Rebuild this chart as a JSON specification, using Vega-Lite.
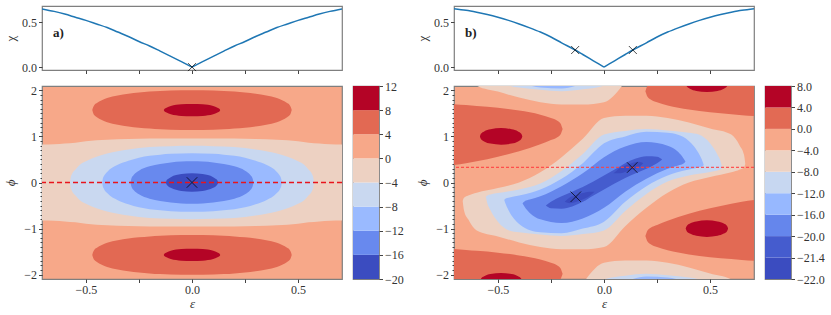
{
"$schema":"https://vega.github.io/schema/vega-lite/v6.json",
"autosize":{"type":"pad"},
"padding":{"left":3,"top":5,"right":0,"bottom":0},
"config":{"font":"Liberation Serif","view":{"stroke":"#7f7f7f","strokeWidth":1.2},
"axis":{"domain":false,"grid":false,"tickColor":"#444","tickWidth":1,"labelColor":"#333","labelFontSize":12,"labelFont":"Liberation Serif","titleFont":"Liberation Serif","titleFontSize":13,"titleFontWeight":"normal","titleColor":"#333","labelPadding":2,"labelOverlap":false}},
"datasets":{
"chiA":[{"k":"L","e":-0.707,"chi":0.648},{"k":"L","e":-0.65,"chi":0.62},{"k":"L","e":-0.6,"chi":0.59},{"k":"L","e":-0.55,"chi":0.555},{"k":"L","e":-0.5,"chi":0.52},{"k":"L","e":-0.45,"chi":0.48},{"k":"L","e":-0.4,"chi":0.44},{"k":"L","e":-0.35,"chi":0.39},{"k":"L","e":-0.3,"chi":0.34},{"k":"L","e":-0.25,"chi":0.285},{"k":"L","e":-0.2,"chi":0.235},{"k":"L","e":-0.15,"chi":0.178},{"k":"L","e":-0.1,"chi":0.12},{"k":"L","e":-0.05,"chi":0.06},{"k":"L","e":0,"chi":0},{"k":"R","e":0,"chi":0},{"k":"R","e":0.05,"chi":0.06},{"k":"R","e":0.1,"chi":0.12},{"k":"R","e":0.15,"chi":0.178},{"k":"R","e":0.2,"chi":0.235},{"k":"R","e":0.25,"chi":0.285},{"k":"R","e":0.3,"chi":0.34},{"k":"R","e":0.35,"chi":0.39},{"k":"R","e":0.4,"chi":0.44},{"k":"R","e":0.45,"chi":0.48},{"k":"R","e":0.5,"chi":0.52},{"k":"R","e":0.55,"chi":0.555},{"k":"R","e":0.6,"chi":0.59},{"k":"R","e":0.65,"chi":0.62},{"k":"R","e":0.707,"chi":0.648}],
"chiB":[{"k":"L","e":-0.707,"chi":0.65},{"k":"L","e":-0.65,"chi":0.632},{"k":"L","e":-0.6,"chi":0.61},{"k":"L","e":-0.55,"chi":0.585},{"k":"L","e":-0.5,"chi":0.555},{"k":"L","e":-0.45,"chi":0.52},{"k":"L","e":-0.4,"chi":0.48},{"k":"L","e":-0.35,"chi":0.437},{"k":"L","e":-0.3,"chi":0.39},{"k":"L","e":-0.25,"chi":0.335},{"k":"L","e":-0.2,"chi":0.27},{"k":"L","e":-0.136,"chi":0.19},{"k":"L","e":-0.1,"chi":0.14},{"k":"L","e":-0.05,"chi":0.07},{"k":"L","e":0,"chi":0},{"k":"R","e":0,"chi":0},{"k":"R","e":0.05,"chi":0.07},{"k":"R","e":0.1,"chi":0.14},{"k":"R","e":0.136,"chi":0.19},{"k":"R","e":0.2,"chi":0.27},{"k":"R","e":0.25,"chi":0.335},{"k":"R","e":0.3,"chi":0.39},{"k":"R","e":0.35,"chi":0.437},{"k":"R","e":0.4,"chi":0.48},{"k":"R","e":0.45,"chi":0.52},{"k":"R","e":0.5,"chi":0.555},{"k":"R","e":0.55,"chi":0.585},{"k":"R","e":0.6,"chi":0.61},{"k":"R","e":0.65,"chi":0.632},{"k":"R","e":0.707,"chi":0.65}],
"ca":[
{"s":"p0","va":-4,"e":-0.71,"lo":-0.825,"hi":0.825},{"s":"p0","va":-4,"e":-0.65,"lo":-0.83,"hi":0.83},{"s":"p0","va":-4,"e":-0.6,"lo":-0.845,"hi":0.845},{"s":"p0","va":-4,"e":-0.55,"lo":-0.865,"hi":0.865},{"s":"p0","va":-4,"e":-0.5,"lo":-0.895,"hi":0.895},{"s":"p0","va":-4,"e":-0.4,"lo":-0.927,"hi":0.927},{"s":"p0","va":-4,"e":-0.3,"lo":-0.942,"hi":0.942},{"s":"p0","va":-4,"e":-0.2,"lo":-0.954,"hi":0.954},{"s":"p0","va":-4,"e":-0.1,"lo":-0.955,"hi":0.955},{"s":"p0","va":-4,"e":0,"lo":-0.956,"hi":0.956},{"s":"p0","va":-4,"e":0.1,"lo":-0.955,"hi":0.955},{"s":"p0","va":-4,"e":0.2,"lo":-0.954,"hi":0.954},{"s":"p0","va":-4,"e":0.3,"lo":-0.942,"hi":0.942},{"s":"p0","va":-4,"e":0.4,"lo":-0.927,"hi":0.927},{"s":"p0","va":-4,"e":0.5,"lo":-0.895,"hi":0.895},{"s":"p0","va":-4,"e":0.55,"lo":-0.865,"hi":0.865},{"s":"p0","va":-4,"e":0.6,"lo":-0.845,"hi":0.845},{"s":"p0","va":-4,"e":0.65,"lo":-0.83,"hi":0.83},{"s":"p0","va":-4,"e":0.71,"lo":-0.825,"hi":0.825},
{"s":"b1","va":-8,"e":-0.575,"lo":0,"hi":0},{"s":"b1","va":-8,"e":-0.572,"lo":-0.1,"hi":0.1},{"s":"b1","va":-8,"e":-0.565,"lo":-0.19,"hi":0.19},{"s":"b1","va":-8,"e":-0.55,"lo":-0.279,"hi":0.279},{"s":"b1","va":-8,"e":-0.53,"lo":-0.38,"hi":0.38},{"s":"b1","va":-8,"e":-0.5,"lo":-0.461,"hi":0.461},{"s":"b1","va":-8,"e":-0.45,"lo":-0.557,"hi":0.557},{"s":"b1","va":-8,"e":-0.4,"lo":-0.628,"hi":0.628},{"s":"b1","va":-8,"e":-0.35,"lo":-0.678,"hi":0.678},{"s":"b1","va":-8,"e":-0.3,"lo":-0.715,"hi":0.715},{"s":"b1","va":-8,"e":-0.2,"lo":-0.768,"hi":0.768},{"s":"b1","va":-8,"e":-0.1,"lo":-0.788,"hi":0.788},{"s":"b1","va":-8,"e":0,"lo":-0.796,"hi":0.796},{"s":"b1","va":-8,"e":0.1,"lo":-0.788,"hi":0.788},{"s":"b1","va":-8,"e":0.2,"lo":-0.768,"hi":0.768},{"s":"b1","va":-8,"e":0.3,"lo":-0.715,"hi":0.715},{"s":"b1","va":-8,"e":0.35,"lo":-0.678,"hi":0.678},{"s":"b1","va":-8,"e":0.4,"lo":-0.628,"hi":0.628},{"s":"b1","va":-8,"e":0.45,"lo":-0.557,"hi":0.557},{"s":"b1","va":-8,"e":0.5,"lo":-0.461,"hi":0.461},{"s":"b1","va":-8,"e":0.53,"lo":-0.38,"hi":0.38},{"s":"b1","va":-8,"e":0.55,"lo":-0.279,"hi":0.279},{"s":"b1","va":-8,"e":0.565,"lo":-0.19,"hi":0.19},{"s":"b1","va":-8,"e":0.572,"lo":-0.1,"hi":0.1},{"s":"b1","va":-8,"e":0.575,"lo":0,"hi":0},
{"s":"b2","va":-12,"e":-0.423,"lo":0,"hi":0},{"s":"b2","va":-12,"e":-0.421,"lo":-0.07,"hi":0.07},{"s":"b2","va":-12,"e":-0.415,"lo":-0.139,"hi":0.139},{"s":"b2","va":-12,"e":-0.4,"lo":-0.228,"hi":0.228},{"s":"b2","va":-12,"e":-0.35,"lo":-0.383,"hi":0.383},{"s":"b2","va":-12,"e":-0.3,"lo":-0.472,"hi":0.472},{"s":"b2","va":-12,"e":-0.25,"lo":-0.539,"hi":0.539},{"s":"b2","va":-12,"e":-0.2,"lo":-0.58,"hi":0.58},{"s":"b2","va":-12,"e":-0.15,"lo":-0.604,"hi":0.604},{"s":"b2","va":-12,"e":-0.1,"lo":-0.622,"hi":0.622},{"s":"b2","va":-12,"e":0,"lo":-0.637,"hi":0.637},{"s":"b2","va":-12,"e":0.1,"lo":-0.622,"hi":0.622},{"s":"b2","va":-12,"e":0.15,"lo":-0.604,"hi":0.604},{"s":"b2","va":-12,"e":0.2,"lo":-0.58,"hi":0.58},{"s":"b2","va":-12,"e":0.25,"lo":-0.539,"hi":0.539},{"s":"b2","va":-12,"e":0.3,"lo":-0.472,"hi":0.472},{"s":"b2","va":-12,"e":0.35,"lo":-0.383,"hi":0.383},{"s":"b2","va":-12,"e":0.4,"lo":-0.228,"hi":0.228},{"s":"b2","va":-12,"e":0.415,"lo":-0.139,"hi":0.139},{"s":"b2","va":-12,"e":0.421,"lo":-0.07,"hi":0.07},{"s":"b2","va":-12,"e":0.423,"lo":0,"hi":0},
{"s":"b3","va":-16,"e":-0.29,"lo":0,"hi":0},{"s":"b3","va":-16,"e":-0.286,"lo":-0.08,"hi":0.08},{"s":"b3","va":-16,"e":-0.275,"lo":-0.164,"hi":0.164},{"s":"b3","va":-16,"e":-0.25,"lo":-0.257,"hi":0.257},{"s":"b3","va":-16,"e":-0.2,"lo":-0.351,"hi":0.351},{"s":"b3","va":-16,"e":-0.15,"lo":-0.4,"hi":0.4},{"s":"b3","va":-16,"e":-0.1,"lo":-0.434,"hi":0.434},{"s":"b3","va":-16,"e":-0.05,"lo":-0.453,"hi":0.453},{"s":"b3","va":-16,"e":0,"lo":-0.459,"hi":0.459},{"s":"b3","va":-16,"e":0.05,"lo":-0.453,"hi":0.453},{"s":"b3","va":-16,"e":0.1,"lo":-0.434,"hi":0.434},{"s":"b3","va":-16,"e":0.15,"lo":-0.4,"hi":0.4},{"s":"b3","va":-16,"e":0.2,"lo":-0.351,"hi":0.351},{"s":"b3","va":-16,"e":0.25,"lo":-0.257,"hi":0.257},{"s":"b3","va":-16,"e":0.275,"lo":-0.164,"hi":0.164},{"s":"b3","va":-16,"e":0.286,"lo":-0.08,"hi":0.08},{"s":"b3","va":-16,"e":0.29,"lo":0,"hi":0},
{"s":"b4","va":-20,"e":-0.123,"lo":0,"hi":0},{"s":"b4","va":-20,"e":-0.121,"lo":-0.034,"hi":0.034},{"s":"b4","va":-20,"e":-0.115,"lo":-0.068,"hi":0.068},{"s":"b4","va":-20,"e":-0.1,"lo":-0.116,"hi":0.116},{"s":"b4","va":-20,"e":-0.05,"lo":-0.183,"hi":0.183},{"s":"b4","va":-20,"e":0,"lo":-0.2,"hi":0.2},{"s":"b4","va":-20,"e":0.05,"lo":-0.183,"hi":0.183},{"s":"b4","va":-20,"e":0.1,"lo":-0.116,"hi":0.116},{"s":"b4","va":-20,"e":0.115,"lo":-0.068,"hi":0.068},{"s":"b4","va":-20,"e":0.121,"lo":-0.034,"hi":0.034},{"s":"b4","va":-20,"e":0.123,"lo":0,"hi":0},
{"s":"r1t","va":4,"e":-0.47,"lo":1.571,"hi":1.571},{"s":"r1t","va":4,"e":-0.466,"lo":1.51,"hi":1.632},{"s":"r1t","va":4,"e":-0.46,"lo":1.458,"hi":1.684},{"s":"r1t","va":4,"e":-0.45,"lo":1.424,"hi":1.718},{"s":"r1t","va":4,"e":-0.4,"lo":1.31,"hi":1.832},{"s":"r1t","va":4,"e":-0.35,"lo":1.253,"hi":1.889},{"s":"r1t","va":4,"e":-0.3,"lo":1.214,"hi":1.928},{"s":"r1t","va":4,"e":-0.25,"lo":1.189,"hi":1.953},{"s":"r1t","va":4,"e":-0.2,"lo":1.17,"hi":1.972},{"s":"r1t","va":4,"e":-0.15,"lo":1.154,"hi":1.988},{"s":"r1t","va":4,"e":-0.1,"lo":1.145,"hi":1.997},{"s":"r1t","va":4,"e":0,"lo":1.139,"hi":2.003},{"s":"r1t","va":4,"e":0.1,"lo":1.145,"hi":1.997},{"s":"r1t","va":4,"e":0.15,"lo":1.154,"hi":1.988},{"s":"r1t","va":4,"e":0.2,"lo":1.17,"hi":1.972},{"s":"r1t","va":4,"e":0.25,"lo":1.189,"hi":1.953},{"s":"r1t","va":4,"e":0.3,"lo":1.214,"hi":1.928},{"s":"r1t","va":4,"e":0.35,"lo":1.253,"hi":1.889},{"s":"r1t","va":4,"e":0.4,"lo":1.31,"hi":1.832},{"s":"r1t","va":4,"e":0.45,"lo":1.424,"hi":1.718},{"s":"r1t","va":4,"e":0.46,"lo":1.458,"hi":1.684},{"s":"r1t","va":4,"e":0.466,"lo":1.51,"hi":1.632},{"s":"r1t","va":4,"e":0.47,"lo":1.571,"hi":1.571},
{"s":"r1b","va":4,"e":-0.47,"lo":-1.571,"hi":-1.571},{"s":"r1b","va":4,"e":-0.466,"lo":-1.632,"hi":-1.51},{"s":"r1b","va":4,"e":-0.46,"lo":-1.684,"hi":-1.458},{"s":"r1b","va":4,"e":-0.45,"lo":-1.718,"hi":-1.424},{"s":"r1b","va":4,"e":-0.4,"lo":-1.832,"hi":-1.31},{"s":"r1b","va":4,"e":-0.35,"lo":-1.889,"hi":-1.253},{"s":"r1b","va":4,"e":-0.3,"lo":-1.928,"hi":-1.214},{"s":"r1b","va":4,"e":-0.25,"lo":-1.953,"hi":-1.189},{"s":"r1b","va":4,"e":-0.2,"lo":-1.972,"hi":-1.17},{"s":"r1b","va":4,"e":-0.15,"lo":-1.988,"hi":-1.154},{"s":"r1b","va":4,"e":-0.1,"lo":-1.997,"hi":-1.145},{"s":"r1b","va":4,"e":0,"lo":-2.003,"hi":-1.139},{"s":"r1b","va":4,"e":0.1,"lo":-1.997,"hi":-1.145},{"s":"r1b","va":4,"e":0.15,"lo":-1.988,"hi":-1.154},{"s":"r1b","va":4,"e":0.2,"lo":-1.972,"hi":-1.17},{"s":"r1b","va":4,"e":0.25,"lo":-1.953,"hi":-1.189},{"s":"r1b","va":4,"e":0.3,"lo":-1.928,"hi":-1.214},{"s":"r1b","va":4,"e":0.35,"lo":-1.889,"hi":-1.253},{"s":"r1b","va":4,"e":0.4,"lo":-1.832,"hi":-1.31},{"s":"r1b","va":4,"e":0.45,"lo":-1.718,"hi":-1.424},{"s":"r1b","va":4,"e":0.46,"lo":-1.684,"hi":-1.458},{"s":"r1b","va":4,"e":0.466,"lo":-1.632,"hi":-1.51},{"s":"r1b","va":4,"e":0.47,"lo":-1.571,"hi":-1.571},
{"s":"r2t","va":8,"e":-0.133,"lo":1.571,"hi":1.571},{"s":"r2t","va":8,"e":-0.13,"lo":1.545,"hi":1.597},{"s":"r2t","va":8,"e":-0.12,"lo":1.521,"hi":1.621},{"s":"r2t","va":8,"e":-0.1,"lo":1.48,"hi":1.662},{"s":"r2t","va":8,"e":-0.05,"lo":1.445,"hi":1.697},{"s":"r2t","va":8,"e":0,"lo":1.436,"hi":1.706},{"s":"r2t","va":8,"e":0.05,"lo":1.445,"hi":1.697},{"s":"r2t","va":8,"e":0.1,"lo":1.48,"hi":1.662},{"s":"r2t","va":8,"e":0.12,"lo":1.521,"hi":1.621},{"s":"r2t","va":8,"e":0.13,"lo":1.545,"hi":1.597},{"s":"r2t","va":8,"e":0.133,"lo":1.571,"hi":1.571},
{"s":"r2b","va":8,"e":-0.133,"lo":-1.571,"hi":-1.571},{"s":"r2b","va":8,"e":-0.13,"lo":-1.597,"hi":-1.545},{"s":"r2b","va":8,"e":-0.12,"lo":-1.621,"hi":-1.521},{"s":"r2b","va":8,"e":-0.1,"lo":-1.662,"hi":-1.48},{"s":"r2b","va":8,"e":-0.05,"lo":-1.697,"hi":-1.445},{"s":"r2b","va":8,"e":0,"lo":-1.706,"hi":-1.436},{"s":"r2b","va":8,"e":0.05,"lo":-1.697,"hi":-1.445},{"s":"r2b","va":8,"e":0.1,"lo":-1.662,"hi":-1.48},{"s":"r2b","va":8,"e":0.12,"lo":-1.621,"hi":-1.521},{"s":"r2b","va":8,"e":0.13,"lo":-1.597,"hi":-1.545},{"s":"r2b","va":8,"e":0.133,"lo":-1.571,"hi":-1.571}
],
"cb":[
{"s":"q5","vb":-8,"e":-0.666,"lo":-0.4,"hi":-0.4},{"s":"q5","vb":-8,"e":-0.66,"lo":-0.6,"hi":-0.33},{"s":"q5","vb":-8,"e":-0.64,"lo":-0.8,"hi":-0.28},{"s":"q5","vb":-8,"e":-0.6,"lo":-1.04,"hi":-0.22},{"s":"q5","vb":-8,"e":-0.5,"lo":-1.17,"hi":-0.12},{"s":"q5","vb":-8,"e":-0.4,"lo":-1.3,"hi":0},{"s":"q5","vb":-8,"e":-0.3,"lo":-1.4,"hi":0.22},{"s":"q5","vb":-8,"e":-0.2,"lo":-1.45,"hi":0.55},{"s":"q5","vb":-8,"e":-0.1,"lo":-1.45,"hi":0.95},{"s":"q5","vb":-8,"e":0,"lo":-1.4,"hi":1.4},{"s":"q5","vb":-8,"e":0.1,"lo":-0.95,"hi":1.45},{"s":"q5","vb":-8,"e":0.2,"lo":-0.55,"hi":1.45},{"s":"q5","vb":-8,"e":0.3,"lo":-0.22,"hi":1.4},{"s":"q5","vb":-8,"e":0.4,"lo":0,"hi":1.3},{"s":"q5","vb":-8,"e":0.5,"lo":0.12,"hi":1.17},{"s":"q5","vb":-8,"e":0.6,"lo":0.22,"hi":1.04},{"s":"q5","vb":-8,"e":0.64,"lo":0.28,"hi":0.8},{"s":"q5","vb":-8,"e":0.66,"lo":0.33,"hi":0.6},{"s":"q5","vb":-8,"e":0.666,"lo":0.4,"hi":0.4},
{"s":"q5u","vb":-8,"e":-0.64,"lo":2.342,"hi":2.862},{"s":"q5u","vb":-8,"e":-0.6,"lo":2.102,"hi":2.922},{"s":"q5u","vb":-8,"e":-0.5,"lo":1.972,"hi":3.022},{"s":"q5u","vb":-8,"e":-0.4,"lo":1.842,"hi":3.142},{"s":"q5u","vb":-8,"e":-0.3,"lo":1.742,"hi":3.362},{"s":"q5u","vb":-8,"e":-0.2,"lo":1.692,"hi":3.692},{"s":"q5u","vb":-8,"e":-0.1,"lo":1.692,"hi":4.092},{"s":"q5u","vb":-8,"e":0,"lo":1.742,"hi":4.542},{"s":"q5u","vb":-8,"e":0.1,"lo":2.192,"hi":4.592},
{"s":"q5d","vb":-8,"e":-0.1,"lo":-4.592,"hi":-2.192},{"s":"q5d","vb":-8,"e":0,"lo":-4.542,"hi":-1.742},{"s":"q5d","vb":-8,"e":0.1,"lo":-4.092,"hi":-1.692},{"s":"q5d","vb":-8,"e":0.2,"lo":-3.692,"hi":-1.692},{"s":"q5d","vb":-8,"e":0.3,"lo":-3.362,"hi":-1.742},{"s":"q5d","vb":-8,"e":0.4,"lo":-3.142,"hi":-1.842},{"s":"q5d","vb":-8,"e":0.5,"lo":-3.022,"hi":-1.972},{"s":"q5d","vb":-8,"e":0.6,"lo":-2.922,"hi":-2.102},{"s":"q5d","vb":-8,"e":0.64,"lo":-2.862,"hi":-2.342},
{"s":"q4","vb":-12,"e":-0.557,"lo":-0.31,"hi":-0.31},{"s":"q4","vb":-12,"e":-0.55,"lo":-0.45,"hi":-0.28},{"s":"q4","vb":-12,"e":-0.535,"lo":-0.6,"hi":-0.26},{"s":"q4","vb":-12,"e":-0.5,"lo":-0.85,"hi":-0.23},{"s":"q4","vb":-12,"e":-0.447,"lo":-1.04,"hi":-0.19},{"s":"q4","vb":-12,"e":-0.4,"lo":-1.08,"hi":-0.15},{"s":"q4","vb":-12,"e":-0.3,"lo":-1.13,"hi":-0.02},{"s":"q4","vb":-12,"e":-0.2,"lo":-1.16,"hi":0.25},{"s":"q4","vb":-12,"e":-0.1,"lo":-1.12,"hi":0.62},{"s":"q4","vb":-12,"e":0,"lo":-1.04,"hi":1.04},{"s":"q4","vb":-12,"e":0.1,"lo":-0.62,"hi":1.12},{"s":"q4","vb":-12,"e":0.2,"lo":-0.25,"hi":1.16},{"s":"q4","vb":-12,"e":0.3,"lo":0.02,"hi":1.13},{"s":"q4","vb":-12,"e":0.4,"lo":0.15,"hi":1.08},{"s":"q4","vb":-12,"e":0.447,"lo":0.19,"hi":1.04},{"s":"q4","vb":-12,"e":0.5,"lo":0.23,"hi":0.85},{"s":"q4","vb":-12,"e":0.535,"lo":0.26,"hi":0.6},{"s":"q4","vb":-12,"e":0.55,"lo":0.28,"hi":0.45},{"s":"q4","vb":-12,"e":0.557,"lo":0.31,"hi":0.31},
{"s":"q4u","vb":-12,"e":-0.5,"lo":2.292,"hi":2.912},{"s":"q4u","vb":-12,"e":-0.447,"lo":2.102,"hi":2.952},{"s":"q4u","vb":-12,"e":-0.4,"lo":2.062,"hi":2.992},{"s":"q4u","vb":-12,"e":-0.3,"lo":2.012,"hi":3.122},{"s":"q4u","vb":-12,"e":-0.2,"lo":1.982,"hi":3.392},{"s":"q4u","vb":-12,"e":-0.1,"lo":2.022,"hi":3.762},{"s":"q4u","vb":-12,"e":0,"lo":2.102,"hi":4.182},{"s":"q4u","vb":-12,"e":0.1,"lo":2.522,"hi":4.262},
{"s":"q4d","vb":-12,"e":-0.1,"lo":-4.262,"hi":-2.522},{"s":"q4d","vb":-12,"e":0,"lo":-4.182,"hi":-2.102},{"s":"q4d","vb":-12,"e":0.1,"lo":-3.762,"hi":-2.022},{"s":"q4d","vb":-12,"e":0.2,"lo":-3.392,"hi":-1.982},{"s":"q4d","vb":-12,"e":0.3,"lo":-3.122,"hi":-2.012},{"s":"q4d","vb":-12,"e":0.4,"lo":-2.992,"hi":-2.062},{"s":"q4d","vb":-12,"e":0.447,"lo":-2.952,"hi":-2.102},{"s":"q4d","vb":-12,"e":0.5,"lo":-2.912,"hi":-2.292},
{"s":"q3","vb":-16,"e":-0.47,"lo":-0.38,"hi":-0.38},{"s":"q3","vb":-16,"e":-0.465,"lo":-0.45,"hi":-0.35},{"s":"q3","vb":-16,"e":-0.45,"lo":-0.6,"hi":-0.33},{"s":"q3","vb":-16,"e":-0.4,"lo":-0.9,"hi":-0.28},{"s":"q3","vb":-16,"e":-0.345,"lo":-1.04,"hi":-0.22},{"s":"q3","vb":-16,"e":-0.3,"lo":-1.08,"hi":-0.15},{"s":"q3","vb":-16,"e":-0.2,"lo":-1.1,"hi":0.08},{"s":"q3","vb":-16,"e":-0.1,"lo":-1.0,"hi":0.42},{"s":"q3","vb":-16,"e":0,"lo":-0.85,"hi":0.85},{"s":"q3","vb":-16,"e":0.1,"lo":-0.42,"hi":1.0},{"s":"q3","vb":-16,"e":0.2,"lo":-0.08,"hi":1.1},{"s":"q3","vb":-16,"e":0.3,"lo":0.15,"hi":1.08},{"s":"q3","vb":-16,"e":0.345,"lo":0.22,"hi":1.04},{"s":"q3","vb":-16,"e":0.4,"lo":0.28,"hi":0.9},{"s":"q3","vb":-16,"e":0.45,"lo":0.33,"hi":0.6},{"s":"q3","vb":-16,"e":0.465,"lo":0.35,"hi":0.45},{"s":"q3","vb":-16,"e":0.47,"lo":0.38,"hi":0.38},
{"s":"q3u","vb":-16,"e":-0.4,"lo":2.242,"hi":2.862},{"s":"q3u","vb":-16,"e":-0.345,"lo":2.102,"hi":2.922},{"s":"q3u","vb":-16,"e":-0.3,"lo":2.062,"hi":2.992},{"s":"q3u","vb":-16,"e":-0.2,"lo":2.042,"hi":3.222},{"s":"q3u","vb":-16,"e":-0.1,"lo":2.142,"hi":3.562},{"s":"q3u","vb":-16,"e":-0.05,"lo":2.21,"hi":3.7},
{"s":"q3d","vb":-16,"e":0.05,"lo":-3.7,"hi":-2.21},{"s":"q3d","vb":-16,"e":0.1,"lo":-3.562,"hi":-2.142},{"s":"q3d","vb":-16,"e":0.2,"lo":-3.222,"hi":-2.042},{"s":"q3d","vb":-16,"e":0.3,"lo":-2.992,"hi":-2.062},{"s":"q3d","vb":-16,"e":0.345,"lo":-2.922,"hi":-2.102},{"s":"q3d","vb":-16,"e":0.4,"lo":-2.862,"hi":-2.242},
{"s":"q2","vb":-20,"e":-0.384,"lo":-0.45,"hi":-0.45},{"s":"q2","vb":-20,"e":-0.375,"lo":-0.52,"hi":-0.41},{"s":"q2","vb":-20,"e":-0.35,"lo":-0.66,"hi":-0.37},{"s":"q2","vb":-20,"e":-0.3,"lo":-0.8,"hi":-0.3},{"s":"q2","vb":-20,"e":-0.2,"lo":-0.88,"hi":-0.08},{"s":"q2","vb":-20,"e":-0.1,"lo":-0.78,"hi":0.2},{"s":"q2","vb":-20,"e":0,"lo":-0.55,"hi":0.55},{"s":"q2","vb":-20,"e":0.1,"lo":-0.2,"hi":0.78},{"s":"q2","vb":-20,"e":0.2,"lo":0.08,"hi":0.88},{"s":"q2","vb":-20,"e":0.3,"lo":0.3,"hi":0.8},{"s":"q2","vb":-20,"e":0.35,"lo":0.37,"hi":0.66},{"s":"q2","vb":-20,"e":0.375,"lo":0.41,"hi":0.52},{"s":"q2","vb":-20,"e":0.384,"lo":0.45,"hi":0.45},
{"s":"q1","vb":-21.4,"e":-0.274,"lo":-0.5,"hi":-0.5},{"s":"q1","vb":-21.4,"e":-0.25,"lo":-0.56,"hi":-0.42},{"s":"q1","vb":-21.4,"e":-0.2,"lo":-0.57,"hi":-0.3},{"s":"q1","vb":-21.4,"e":-0.15,"lo":-0.52,"hi":-0.2},{"s":"q1","vb":-21.4,"e":-0.1,"lo":-0.42,"hi":-0.1},{"s":"q1","vb":-21.4,"e":-0.05,"lo":-0.28,"hi":0.02},{"s":"q1","vb":-21.4,"e":0,"lo":-0.15,"hi":0.15},{"s":"q1","vb":-21.4,"e":0.05,"lo":-0.02,"hi":0.28},{"s":"q1","vb":-21.4,"e":0.1,"lo":0.1,"hi":0.42},{"s":"q1","vb":-21.4,"e":0.15,"lo":0.2,"hi":0.52},{"s":"q1","vb":-21.4,"e":0.2,"lo":0.3,"hi":0.57},{"s":"q1","vb":-21.4,"e":0.25,"lo":0.42,"hi":0.56},{"s":"q1","vb":-21.4,"e":0.274,"lo":0.5,"hi":0.5},
{"s":"q0r","vb":-22,"e":0.045,"lo":0.2,"hi":0.2},{"s":"q0r","vb":-22,"e":0.07,"lo":0.2,"hi":0.3},{"s":"q0r","vb":-22,"e":0.1,"lo":0.23,"hi":0.37},{"s":"q0r","vb":-22,"e":0.13,"lo":0.27,"hi":0.42},{"s":"q0r","vb":-22,"e":0.16,"lo":0.32,"hi":0.45},{"s":"q0r","vb":-22,"e":0.185,"lo":0.42,"hi":0.42},
{"s":"q0l","vb":-22,"e":-0.185,"lo":-0.42,"hi":-0.42},{"s":"q0l","vb":-22,"e":-0.16,"lo":-0.45,"hi":-0.32},{"s":"q0l","vb":-22,"e":-0.13,"lo":-0.42,"hi":-0.27},{"s":"q0l","vb":-22,"e":-0.1,"lo":-0.37,"hi":-0.23},{"s":"q0l","vb":-22,"e":-0.07,"lo":-0.3,"hi":-0.2},{"s":"q0l","vb":-22,"e":-0.045,"lo":-0.2,"hi":-0.2},
{"s":"rl","vb":0,"e":-0.71,"lo":0.38,"hi":1.7},{"s":"rl","vb":0,"e":-0.65,"lo":0.42,"hi":1.68},{"s":"rl","vb":0,"e":-0.6,"lo":0.46,"hi":1.66},{"s":"rl","vb":0,"e":-0.5,"lo":0.56,"hi":1.62},{"s":"rl","vb":0,"e":-0.4,"lo":0.68,"hi":1.56},{"s":"rl","vb":0,"e":-0.3,"lo":0.83,"hi":1.47},{"s":"rl","vb":0,"e":-0.25,"lo":0.92,"hi":1.4},{"s":"rl","vb":0,"e":-0.22,"lo":0.98,"hi":1.34},{"s":"rl","vb":0,"e":-0.205,"lo":1.04,"hi":1.28},{"s":"rl","vb":0,"e":-0.195,"lo":1.16,"hi":1.16},
{"s":"rr","vb":0,"e":0.195,"lo":-1.16,"hi":-1.16},{"s":"rr","vb":0,"e":0.205,"lo":-1.28,"hi":-1.04},{"s":"rr","vb":0,"e":0.22,"lo":-1.34,"hi":-0.98},{"s":"rr","vb":0,"e":0.25,"lo":-1.4,"hi":-0.92},{"s":"rr","vb":0,"e":0.3,"lo":-1.47,"hi":-0.83},{"s":"rr","vb":0,"e":0.4,"lo":-1.56,"hi":-0.68},{"s":"rr","vb":0,"e":0.5,"lo":-1.62,"hi":-0.56},{"s":"rr","vb":0,"e":0.6,"lo":-1.66,"hi":-0.46},{"s":"rr","vb":0,"e":0.65,"lo":-1.68,"hi":-0.42},{"s":"rr","vb":0,"e":0.71,"lo":-1.7,"hi":-0.38},
{"s":"rld","vb":0,"e":-0.71,"lo":-2.762,"hi":-1.442},{"s":"rld","vb":0,"e":-0.65,"lo":-2.722,"hi":-1.462},{"s":"rld","vb":0,"e":-0.6,"lo":-2.682,"hi":-1.482},{"s":"rld","vb":0,"e":-0.5,"lo":-2.582,"hi":-1.522},{"s":"rld","vb":0,"e":-0.4,"lo":-2.462,"hi":-1.582},{"s":"rld","vb":0,"e":-0.3,"lo":-2.312,"hi":-1.672},{"s":"rld","vb":0,"e":-0.25,"lo":-2.222,"hi":-1.742},{"s":"rld","vb":0,"e":-0.22,"lo":-2.162,"hi":-1.802},{"s":"rld","vb":0,"e":-0.205,"lo":-2.102,"hi":-1.862},{"s":"rld","vb":0,"e":-0.195,"lo":-1.982,"hi":-1.982},
{"s":"rru","vb":0,"e":0.195,"lo":1.982,"hi":1.982},{"s":"rru","vb":0,"e":0.205,"lo":1.862,"hi":2.102},{"s":"rru","vb":0,"e":0.22,"lo":1.802,"hi":2.162},{"s":"rru","vb":0,"e":0.25,"lo":1.742,"hi":2.222},{"s":"rru","vb":0,"e":0.3,"lo":1.672,"hi":2.312},{"s":"rru","vb":0,"e":0.4,"lo":1.582,"hi":2.462},{"s":"rru","vb":0,"e":0.5,"lo":1.522,"hi":2.582},{"s":"rru","vb":0,"e":0.6,"lo":1.482,"hi":2.682},{"s":"rru","vb":0,"e":0.65,"lo":1.462,"hi":2.722},{"s":"rru","vb":0,"e":0.71,"lo":1.442,"hi":2.762},
{"s":"d1","vb":4,"e":-0.585,"lo":1.0,"hi":1.0},{"s":"d1","vb":4,"e":-0.58,"lo":0.944,"hi":1.056},{"s":"d1","vb":4,"e":-0.565,"lo":0.892,"hi":1.108},{"s":"d1","vb":4,"e":-0.535,"lo":0.844,"hi":1.156},{"s":"d1","vb":4,"e":-0.485,"lo":0.82,"hi":1.18},{"s":"d1","vb":4,"e":-0.435,"lo":0.844,"hi":1.156},{"s":"d1","vb":4,"e":-0.405,"lo":0.892,"hi":1.108},{"s":"d1","vb":4,"e":-0.39,"lo":0.944,"hi":1.056},{"s":"d1","vb":4,"e":-0.385,"lo":1.0,"hi":1.0},
{"s":"d2","vb":4,"e":0.385,"lo":-1.0,"hi":-1.0},{"s":"d2","vb":4,"e":0.39,"lo":-1.056,"hi":-0.944},{"s":"d2","vb":4,"e":0.405,"lo":-1.108,"hi":-0.892},{"s":"d2","vb":4,"e":0.435,"lo":-1.156,"hi":-0.844},{"s":"d2","vb":4,"e":0.485,"lo":-1.18,"hi":-0.82},{"s":"d2","vb":4,"e":0.535,"lo":-1.156,"hi":-0.844},{"s":"d2","vb":4,"e":0.565,"lo":-1.108,"hi":-0.892},{"s":"d2","vb":4,"e":0.58,"lo":-1.056,"hi":-0.944},{"s":"d2","vb":4,"e":0.585,"lo":-1.0,"hi":-1.0},
{"s":"d3","vb":4,"e":-0.585,"lo":-2.142,"hi":-2.142},{"s":"d3","vb":4,"e":-0.58,"lo":-2.198,"hi":-2.086},{"s":"d3","vb":4,"e":-0.565,"lo":-2.25,"hi":-2.034},{"s":"d3","vb":4,"e":-0.535,"lo":-2.298,"hi":-1.986},{"s":"d3","vb":4,"e":-0.485,"lo":-2.322,"hi":-1.962},{"s":"d3","vb":4,"e":-0.435,"lo":-2.298,"hi":-1.986},{"s":"d3","vb":4,"e":-0.405,"lo":-2.25,"hi":-2.034},{"s":"d3","vb":4,"e":-0.39,"lo":-2.198,"hi":-2.086},{"s":"d3","vb":4,"e":-0.385,"lo":-2.142,"hi":-2.142},
{"s":"d4","vb":4,"e":0.385,"lo":2.142,"hi":2.142},{"s":"d4","vb":4,"e":0.39,"lo":2.086,"hi":2.198},{"s":"d4","vb":4,"e":0.405,"lo":2.034,"hi":2.25},{"s":"d4","vb":4,"e":0.435,"lo":1.986,"hi":2.298},{"s":"d4","vb":4,"e":0.485,"lo":1.962,"hi":2.322},{"s":"d4","vb":4,"e":0.535,"lo":1.986,"hi":2.298},{"s":"d4","vb":4,"e":0.565,"lo":2.034,"hi":2.25},{"s":"d4","vb":4,"e":0.58,"lo":2.086,"hi":2.198},{"s":"d4","vb":4,"e":0.585,"lo":2.142,"hi":2.142}
],
"barA":[{"va":-20,"hi":-16},{"va":-16,"hi":-12},{"va":-12,"hi":-8},{"va":-8,"hi":-4},{"va":-4,"hi":0},{"va":0,"hi":4},{"va":4,"hi":8},{"va":8,"hi":12}],
"barB":[{"vb":-22,"hi":-21.4},{"vb":-21.4,"hi":-20},{"vb":-20,"hi":-16},{"vb":-16,"hi":-12},{"vb":-12,"hi":-8},{"vb":-8,"hi":-4},{"vb":-4,"hi":0},{"vb":0,"hi":4},{"vb":4,"hi":8}]
},
"resolve":{"scale":{"x":"independent","y":"independent","color":"independent"}},
"columns":5,"spacing":{"row":16,"column":11},"bounds":"flush","align":"each",
"concat":[
 {"width":300,"height":64,"layer":[
  {"data":{"name":"chiA"},"mark":{"type":"line","color":"#1f77b4","strokeWidth":1.5,"clip":true,"interpolate":"monotone"},
   "encoding":{"x":{"field":"e","type":"quantitative","scale":{"domain":[-0.707,0.707],"nice":false,"zero":false},"axis":{"values":[-0.5,-0.25,0,0.25,0.5],"labels":false,"title":null,"tickSize":3.5}},
   "y":{"field":"chi","type":"quantitative","scale":{"domain":[-0.0325,0.68],"nice":false,"zero":false},"axis":{"values":[0,0.5],"format":".1f","title":"χ","minExtent":22,"maxExtent":22,"titlePadding":3,"tickSize":3.5,"labelOverlap":false}},
   "detail":{"field":"k"}}},
  {"data":{"values":[{"e":0,"chi":0}]},"mark":{"type":"point","shape":"M-1,-1L1,1M-1,1L1,-1","filled":false,"color":"black","size":64,"strokeWidth":1},
   "encoding":{"x":{"field":"e","type":"quantitative"},"y":{"field":"chi","type":"quantitative"}}},
  {"data":{"values":[{"e":-0.655,"chi":0.38,"t":"a)"}]},"mark":{"type":"text","align":"left","baseline":"middle","fontWeight":"bold","fontSize":13,"color":"#222"},
   "encoding":{"x":{"field":"e","type":"quantitative"},"y":{"field":"chi","type":"quantitative"},"text":{"field":"t"}}}
 ]},
 {"width":26,"height":64,"view":{"stroke":null},"data":{"values":[{"t":""}]},"mark":{"type":"text"},"encoding":{"text":{"field":"t"}}},
 {"width":53,"height":64,"view":{"stroke":null},"data":{"values":[{"t":""}]},"mark":{"type":"text"},"encoding":{"text":{"field":"t"}}},
 {"width":300,"height":64,"layer":[
  {"data":{"name":"chiB"},"mark":{"type":"line","color":"#1f77b4","strokeWidth":1.5,"clip":true,"interpolate":"monotone"},
   "encoding":{"x":{"field":"e","type":"quantitative","scale":{"domain":[-0.707,0.707],"nice":false,"zero":false},"axis":{"values":[-0.5,-0.25,0,0.25,0.5],"labels":false,"title":null,"tickSize":3.5}},
   "y":{"field":"chi","type":"quantitative","scale":{"domain":[-0.0325,0.68],"nice":false,"zero":false},"axis":{"values":[0,0.5],"format":".1f","title":"χ","minExtent":22,"maxExtent":22,"titlePadding":3,"tickSize":3.5,"labelOverlap":false}},
   "detail":{"field":"k"}}},
  {"data":{"values":[{"e":-0.136,"chi":0.19},{"e":0.136,"chi":0.19}]},"mark":{"type":"point","shape":"M-1,-1L1,1M-1,1L1,-1","filled":false,"color":"black","size":64,"strokeWidth":1},
   "encoding":{"x":{"field":"e","type":"quantitative"},"y":{"field":"chi","type":"quantitative"}}},
  {"data":{"values":[{"e":-0.655,"chi":0.38,"t":"b)"}]},"mark":{"type":"text","align":"left","baseline":"middle","fontWeight":"bold","fontSize":13,"color":"#222"},
   "encoding":{"x":{"field":"e","type":"quantitative"},"y":{"field":"chi","type":"quantitative"},"text":{"field":"t"}}}
 ]},
 {"width":26,"height":64,"view":{"stroke":null},"data":{"values":[{"t":""}]},"mark":{"type":"text"},"encoding":{"text":{"field":"t"}}},
  {"width":300,"height":193,"view":{"fill":"#f7a889"},"data":{"name":"ca"},"resolve":{"axis":{"y":"independent"}},"layer":[
   {"transform":[{"filter":"datum.va == -4"}],"mark":{"type":"area","interpolate":"monotone","clip":true},
    "encoding":{"x":{"field":"e","type":"quantitative","scale":{"domain":[-0.707,0.707],"nice":false,"zero":false},"axis":{"values":[-0.5,-0.25,0,0.25,0.5],"labelExpr":"abs(datum.value) == 0.25 ? '' : format(datum.value, '.1f')","title":"ε","titleFontStyle":"italic","tickSize":3.5,"titlePadding":2,"labelOverlap":false}},
    "y":{"field":"lo","type":"quantitative","stack":null,"scale":{"domain":[-2.094,2.094],"nice":false,"zero":false},"axis":{"values":[-2,-1,0,1,2],"format":"d","tickSize":3.5,"title":"ϕ","titleFontStyle":"italic","minExtent":22,"maxExtent":22,"titlePadding":3,"labelOverlap":false}},
    "y2":{"field":"hi"},"detail":{"field":"s"},
    "color":{"field":"va","type":"ordinal","legend":null,"scale":{"domain":[-20,-16,-12,-8,-4,0,4,8],"range":["#3b4cc0","#6889ee","#9abaff","#c9d8f0","#edd1c2","#f7a889","#e26953","#b40426"]}}}},
   {"transform":[{"filter":"datum.va == -8"}],"mark":{"type":"area","interpolate":"monotone","clip":true},
    "encoding":{"x":{"field":"e","type":"quantitative"},"y":{"field":"lo","type":"quantitative","stack":null,"axis":null},"y2":{"field":"hi"},"detail":{"field":"s"},"color":{"field":"va","type":"ordinal","legend":null}}},
   {"transform":[{"filter":"datum.va == -12"}],"mark":{"type":"area","interpolate":"monotone","clip":true},
    "encoding":{"x":{"field":"e","type":"quantitative"},"y":{"field":"lo","type":"quantitative","stack":null,"axis":null},"y2":{"field":"hi"},"detail":{"field":"s"},"color":{"field":"va","type":"ordinal","legend":null}}},
   {"transform":[{"filter":"datum.va == -16"}],"mark":{"type":"area","interpolate":"monotone","clip":true},
    "encoding":{"x":{"field":"e","type":"quantitative"},"y":{"field":"lo","type":"quantitative","stack":null,"axis":null},"y2":{"field":"hi"},"detail":{"field":"s"},"color":{"field":"va","type":"ordinal","legend":null}}},
   {"transform":[{"filter":"datum.va == -20"}],"mark":{"type":"area","interpolate":"monotone","clip":true},
    "encoding":{"x":{"field":"e","type":"quantitative"},"y":{"field":"lo","type":"quantitative","stack":null,"axis":null},"y2":{"field":"hi"},"detail":{"field":"s"},"color":{"field":"va","type":"ordinal","legend":null}}},
   {"transform":[{"filter":"datum.va == 4"}],"mark":{"type":"area","interpolate":"monotone","clip":true},
    "encoding":{"x":{"field":"e","type":"quantitative"},"y":{"field":"lo","type":"quantitative","stack":null,"axis":null},"y2":{"field":"hi"},"detail":{"field":"s"},"color":{"field":"va","type":"ordinal","legend":null}}},
   {"transform":[{"filter":"datum.va == 8"}],"mark":{"type":"area","interpolate":"monotone","clip":true},
    "encoding":{"x":{"field":"e","type":"quantitative"},"y":{"field":"lo","type":"quantitative","stack":null,"axis":null},"y2":{"field":"hi"},"detail":{"field":"s"},"color":{"field":"va","type":"ordinal","legend":null}}},
   {"data":{"values":[{}]},"mark":{"type":"rule","color":"#e8141c","strokeWidth":1.3,"strokeDash":[5,3]},"encoding":{"y":{"datum":0,"axis":null}}},
   {"data":{"values":[{"e":0,"lo":0}]},"mark":{"type":"point","shape":"M-1,-1L1,1M-1,1L1,-1","filled":false,"color":"black","size":110,"strokeWidth":1},
    "encoding":{"x":{"field":"e","type":"quantitative"},"y":{"field":"lo","type":"quantitative","axis":{"values":[-2,-1.9,-1.8,-1.7,-1.6,-1.5,-1.4,-1.3,-1.2,-1.1,-1,-0.9,-0.8,-0.7,-0.6,-0.5,-0.4,-0.3,-0.2,-0.1,0,0.1,0.2,0.3,0.4,0.5,0.6,0.7,0.8,0.9,1,1.1,1.2,1.3,1.4,1.5,1.6,1.7,1.8,1.9,2],"labels":false,"title":null,"tickSize":2,"minExtent":0,"maxExtent":0,"orient":"left"}}}}
  ]},
  {"width":26,"height":193,"data":{"name":"barA"},"mark":{"type":"rect"},
   "encoding":{"y":{"field":"va","type":"quantitative","scale":{"domain":[-20,12],"nice":false,"zero":false},"axis":{"orient":"right","values":[-20,-16,-12,-8,-4,0,4,8,12],"format":"d","title":null,"tickSize":3.5,"labelOverlap":false}},
   "y2":{"field":"hi"},
   "color":{"field":"va","type":"ordinal","legend":null,"scale":{"domain":[-20,-16,-12,-8,-4,0,4,8],"range":["#3b4cc0","#6889ee","#9abaff","#c9d8f0","#edd1c2","#f7a889","#e26953","#b40426"]}}}},
  {"width":53,"height":193,"view":{"stroke":null},"data":{"values":[{"t":""}]},"mark":{"type":"text"},"encoding":{"text":{"field":"t"}}},
  {"width":300,"height":193,"view":{"fill":"#f7a98a"},"data":{"name":"cb"},"resolve":{"axis":{"y":"independent"}},"layer":[
   {"transform":[{"filter":"datum.vb == -8"}],"mark":{"type":"area","interpolate":"monotone","clip":true},
    "encoding":{"x":{"field":"e","type":"quantitative","scale":{"domain":[-0.707,0.707],"nice":false,"zero":false},"axis":{"values":[-0.5,-0.25,0,0.25,0.5],"labelExpr":"abs(datum.value) == 0.25 ? '' : format(datum.value, '.1f')","title":"ε","titleFontStyle":"italic","tickSize":3.5,"titlePadding":2,"labelOverlap":false}},
    "y":{"field":"lo","type":"quantitative","stack":null,"scale":{"domain":[-2.094,2.094],"nice":false,"zero":false},"axis":{"values":[-2,-1,0,1,2],"format":"d","tickSize":3.5,"title":"ϕ","titleFontStyle":"italic","minExtent":22,"maxExtent":22,"titlePadding":3,"labelOverlap":false}},
    "y2":{"field":"hi"},"detail":{"field":"s"},
    "color":{"field":"vb","type":"ordinal","legend":null,"scale":{"domain":[-22,-21.4,-20,-16,-12,-8,-4,0,4],"range":["#3b4cc0","#455cce","#6586ec","#97b8ff","#c7d7f1","#edd2c3","#f7a98a","#e26a54","#b40426"]}}}},
   {"transform":[{"filter":"datum.vb == -12"}],"mark":{"type":"area","interpolate":"monotone","clip":true},
    "encoding":{"x":{"field":"e","type":"quantitative"},"y":{"field":"lo","type":"quantitative","stack":null,"axis":null},"y2":{"field":"hi"},"detail":{"field":"s"},"color":{"field":"vb","type":"ordinal","legend":null}}},
   {"transform":[{"filter":"datum.vb == -16"}],"mark":{"type":"area","interpolate":"monotone","clip":true},
    "encoding":{"x":{"field":"e","type":"quantitative"},"y":{"field":"lo","type":"quantitative","stack":null,"axis":null},"y2":{"field":"hi"},"detail":{"field":"s"},"color":{"field":"vb","type":"ordinal","legend":null}}},
   {"transform":[{"filter":"datum.vb == -20"}],"mark":{"type":"area","interpolate":"monotone","clip":true},
    "encoding":{"x":{"field":"e","type":"quantitative"},"y":{"field":"lo","type":"quantitative","stack":null,"axis":null},"y2":{"field":"hi"},"detail":{"field":"s"},"color":{"field":"vb","type":"ordinal","legend":null}}},
   {"transform":[{"filter":"datum.vb == -21.4"}],"mark":{"type":"area","interpolate":"monotone","clip":true},
    "encoding":{"x":{"field":"e","type":"quantitative"},"y":{"field":"lo","type":"quantitative","stack":null,"axis":null},"y2":{"field":"hi"},"detail":{"field":"s"},"color":{"field":"vb","type":"ordinal","legend":null}}},
   {"transform":[{"filter":"datum.vb == -22"}],"mark":{"type":"area","interpolate":"monotone","clip":true},
    "encoding":{"x":{"field":"e","type":"quantitative"},"y":{"field":"lo","type":"quantitative","stack":null,"axis":null},"y2":{"field":"hi"},"detail":{"field":"s"},"color":{"field":"vb","type":"ordinal","legend":null}}},
   {"transform":[{"filter":"datum.vb == 0"}],"mark":{"type":"area","interpolate":"monotone","clip":true},
    "encoding":{"x":{"field":"e","type":"quantitative"},"y":{"field":"lo","type":"quantitative","stack":null,"axis":null},"y2":{"field":"hi"},"detail":{"field":"s"},"color":{"field":"vb","type":"ordinal","legend":null}}},
   {"transform":[{"filter":"datum.vb == 4"}],"mark":{"type":"area","interpolate":"monotone","clip":true},
    "encoding":{"x":{"field":"e","type":"quantitative"},"y":{"field":"lo","type":"quantitative","stack":null,"axis":null},"y2":{"field":"hi"},"detail":{"field":"s"},"color":{"field":"vb","type":"ordinal","legend":null}}},
   {"data":{"values":[{}]},"mark":{"type":"rule","color":"#ff4040","strokeWidth":1.3,"strokeDash":[3,2],"opacity":0.85},"encoding":{"y":{"datum":0.33,"axis":null}}},
   {"data":{"values":[{"e":-0.133,"lo":-0.31},{"e":0.133,"lo":0.325}]},"mark":{"type":"point","shape":"M-1,-1L1,1M-1,1L1,-1","filled":false,"color":"black","size":110,"strokeWidth":1},
    "encoding":{"x":{"field":"e","type":"quantitative"},"y":{"field":"lo","type":"quantitative","axis":{"values":[-2,-1.9,-1.8,-1.7,-1.6,-1.5,-1.4,-1.3,-1.2,-1.1,-1,-0.9,-0.8,-0.7,-0.6,-0.5,-0.4,-0.3,-0.2,-0.1,0,0.1,0.2,0.3,0.4,0.5,0.6,0.7,0.8,0.9,1,1.1,1.2,1.3,1.4,1.5,1.6,1.7,1.8,1.9,2],"labels":false,"title":null,"tickSize":2,"minExtent":0,"maxExtent":0,"orient":"left"}}}}
  ]},
  {"width":26,"height":193,"data":{"name":"barB"},"mark":{"type":"rect"},
   "encoding":{"y":{"field":"vb","type":"quantitative","scale":{"domain":[-22,-21.4,-20,-16,-12,-8,-4,0,4,8],"range":[193,171.56,150.11,128.67,107.22,85.78,64.33,42.89,21.44,0]},"axis":{"orient":"right","values":[-22,-21.4,-20,-16,-12,-8,-4,0,4,8],"format":".1f","title":null,"tickSize":3.5,"labelOverlap":false}},
   "y2":{"field":"hi"},
   "color":{"field":"vb","type":"ordinal","legend":null,"scale":{"domain":[-22,-21.4,-20,-16,-12,-8,-4,0,4],"range":["#3b4cc0","#455cce","#6586ec","#97b8ff","#c7d7f1","#edd2c3","#f7a98a","#e26a54","#b40426"]}}}}
]
}
